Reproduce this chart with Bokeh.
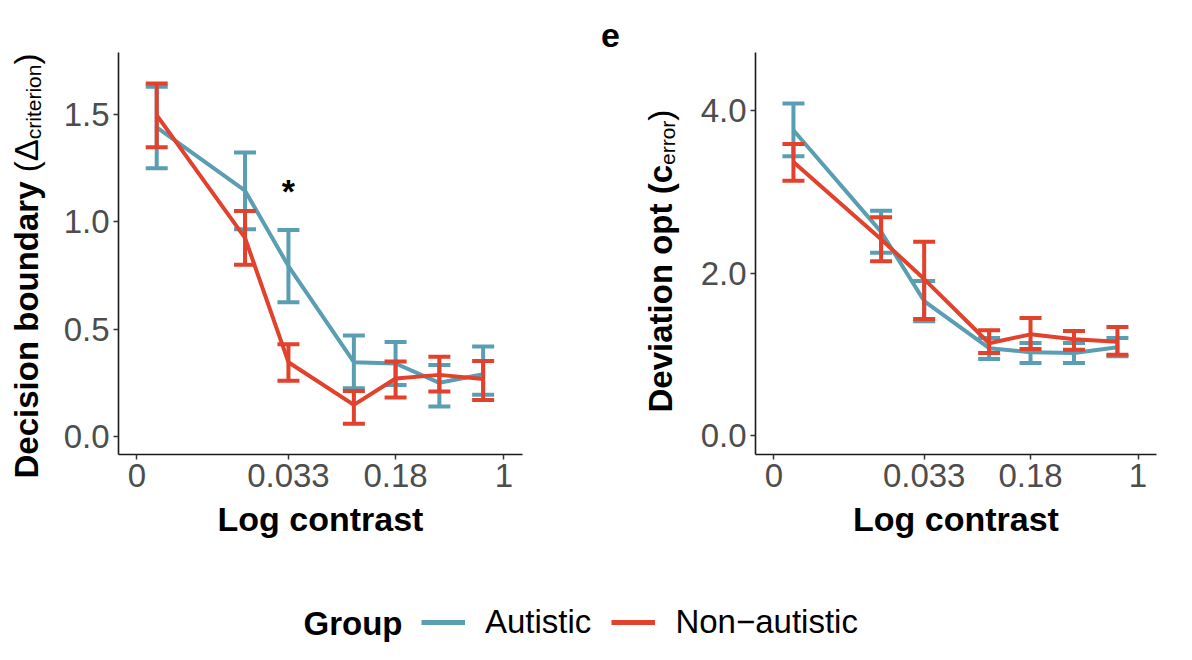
import numpy as np
from bokeh.plotting import figure
from bokeh.models import (Range1d, FixedTicker, NumeralTickFormatter,
                          CustomJSTickFormatter, Legend, LegendItem, ColumnDataSource)
from bokeh.layouts import column, row
from bokeh.embed import file_html
from bokeh.resources import INLINE
from bokeh.core.properties import value

# ---------------- data ----------------
contrast = [0.0041, 0.0166, 0.033, 0.093, 0.18, 0.36, 0.72]
x_tick_contrast = [0.003, 0.033, 0.18, 1.0]
x_tick_labels = ["0", "0.033", "0.18", "1"]

# left panel: decision boundary
db_aut_mean = [1.44, 1.145, 0.794, 0.346, 0.34, 0.25, 0.29]
db_aut_lo = [1.25, 0.966, 0.625, 0.225, 0.24, 0.14, 0.194]
db_aut_hi = [1.63, 1.323, 0.962, 0.47, 0.44, 0.333, 0.419]
db_non_mean = [1.497, 0.925, 0.346, 0.147, 0.27, 0.287, 0.268]
db_non_lo = [1.348, 0.80, 0.26, 0.059, 0.181, 0.209, 0.17]
db_non_hi = [1.644, 1.05, 0.43, 0.212, 0.349, 0.372, 0.352]
db_yticks = [0.0, 0.5, 1.0, 1.5]
sig_contrast = [0.033]
sig_y = [1.145]

# right panel: deviation from optimum
dev_aut_mean = [3.76, 2.51, 1.66, 1.08, 1.03, 1.02, 1.09]
dev_aut_lo = [3.44, 2.255, 1.41, 0.946, 0.897, 0.897, 0.98]
dev_aut_hi = [4.09, 2.77, 1.905, 1.206, 1.144, 1.144, 1.206]
dev_non_mean = [3.37, 2.42, 1.93, 1.14, 1.25, 1.19, 1.16]
dev_non_lo = [3.14, 2.15, 1.44, 1.02, 1.07, 1.06, 1.0]
dev_non_hi = [3.59, 2.69, 2.39, 1.30, 1.45, 1.29, 1.34]
dev_yticks = [0.0, 2.0, 4.0]

groups = ["Autistic", "Non\u2212autistic"]
colors = ["#5A9EB3", "#E2412C"]

FONT = "Liberation Sans"
TICK_SIZE = "33px"
TITLE_SIZE = "34px"
H = 560  # height of the panel row

logx = np.log10(contrast)
x_ticks = [float(v) for v in np.log10(x_tick_contrast)]
X0, X1 = -2.65, 0.128

# approximate Arial/Liberation advance widths (em) for the y-title pieces
W_REG = {"(": .333, ")": .333, "c": .5, "r": .333, "i": .222, "t": .278, "e": .556,
         "o": .556, "n": .556, " ": .278, "\u0394": .668}
W_BOLD = {"D": .722, "e": .556, "c": .556, "i": .278, "s": .556, "o": .611, "n": .611,
          " ": .278, "b": .611, "u": .611, "d": .611, "a": .556, "r": .389, "y": .556,
          "v": .556, "t": .333, "p": .611, "(": .333, ")": .333}


def text_len(s, size, bold):
    tab = W_BOLD if bold else W_REG
    return sum(tab.get(ch, .556) for ch in s) * size


def blank_fig(width, height):
    f = figure(width=width, height=height, x_range=Range1d(0, width),
               y_range=Range1d(0, height), min_border=0, output_backend="svg",
               toolbar_location=None, x_axis_type=None, y_axis_type=None, title=None,
               frame_align=False)
    f.grid.visible = False
    f.outline_line_color = None
    return f


def make_panel(width, ml, mr, yr, yticks):
    p = figure(width=width, height=H, x_range=Range1d(X0, X1), y_range=Range1d(*yr),
               min_border_left=ml, min_border_right=mr, min_border_top=52,
               min_border_bottom=106, output_backend="svg", toolbar_location=None,
               frame_align=False)
    p.grid.visible = False
    p.outline_line_color = None
    p.xaxis.ticker = FixedTicker(ticks=x_ticks)
    p.xaxis.formatter = CustomJSTickFormatter(args=dict(labels=x_tick_labels),
                                              code="return labels[index]")
    p.yaxis.ticker = FixedTicker(ticks=yticks)
    p.yaxis.formatter = NumeralTickFormatter(format="0.0")
    for ax in p.axis:
        ax.axis_line_color = "#1a1a1a"
        ax.axis_line_width = 1.6
        ax.major_tick_line_color = "#333333"
        ax.major_tick_line_width = 1.5
        ax.major_tick_out = 5
        ax.major_tick_in = 0
        ax.minor_tick_line_color = None
        ax.major_label_text_font = FONT
        ax.major_label_text_font_size = TICK_SIZE
        ax.major_label_text_color = "#4D4D4D"
        ax.major_label_standoff = 4
    p.xaxis.axis_label = "Log contrast"
    p.xaxis.axis_label_text_font = FONT
    p.xaxis.axis_label_text_font_size = TITLE_SIZE
    p.xaxis.axis_label_text_font_style = "bold"
    p.xaxis.axis_label_text_color = "black"
    p.xaxis.axis_label_standoff = 10
    return p


def add_series(p, mean, lo, hi, color):
    src = ColumnDataSource(dict(x=logx, m=mean, lo=lo, hi=hi))
    p.segment(x0="x", y0="lo", x1="x", y1="hi", source=src, line_color=color, line_width=4)
    p.scatter(x="x", y="hi", source=src, marker="dash", size=22, line_color=color, line_width=4)
    p.scatter(x="x", y="lo", source=src, marker="dash", size=22, line_color=color, line_width=4)
    return p.line(x="x", y="m", source=src, line_color=color, line_width=4)


def add_vtitle(f, pieces, cx, py_start):
    """Rotated title made of pieces (text, size, bold, shift_px); each piece centred."""
    py = py_start
    for txt, size, bold, shift in pieces:
        L = text_len(txt, size, bold)
        f.text(x=[cx + shift], y=[H - (py - L / 2)], text=[txt], angle=np.pi / 2,
               text_align="center", text_baseline="middle", text_font=value(FONT),
               text_font_size=f"{size}px", text_font_style="bold" if bold else "normal",
               text_color="black")
        py -= L


# ---------------- left title strip + panel ----------------
s1 = blank_fig(50, H)
add_vtitle(s1, [("Decision boundary ", 33, True, 0), ("(", 33, False, 0),
                ("\u0394", 33, False, 0), ("criterion", 21, False, 7), (")", 33, False, 0)],
           26, 478)

yr1 = (-0.084, 1.789)
p1 = make_panel(540, 68, 68, yr1, db_yticks)
add_series(p1, db_aut_mean, db_aut_lo, db_aut_hi, colors[0])
add_series(p1, db_non_mean, db_non_lo, db_non_hi, colors[1])
p1.text(x=list(np.log10(sig_contrast)), y=sig_y, text=["*"], text_align="center",
        text_baseline="middle", text_font=value(FONT), text_font_size="34px",
        text_font_style="bold", text_color="black")

# ---------------- right title strip + panel ----------------
s2 = blank_fig(100, H)
add_vtitle(s2, [("Deviation opt (c", 33, True, 0), ("error", 21, False, 7),
                (")", 33, False, 0)],
           660 - 590, 412)
s2.text(x=[610 - 590], y=[H - 35], text=["e"], text_align="center",
        text_baseline="middle", text_font=value(FONT), text_font_size="34px",
        text_font_style="bold", text_color="black")

yr2 = (-0.228, 4.717)
p2 = make_panel(494, 65, 28, yr2, dev_yticks)
add_series(p2, dev_aut_mean, dev_aut_lo, dev_aut_hi, colors[0])
add_series(p2, dev_non_mean, dev_non_lo, dev_non_hi, colors[1])

# ---------------- legend strip ----------------
pl = blank_fig(1184, 88)
r_a = pl.line(x=[np.nan], y=[np.nan], line_color=colors[0], line_width=5)
r_n = pl.line(x=[np.nan], y=[np.nan], line_color=colors[1], line_width=5)
leg = Legend(items=[LegendItem(label=groups[0], renderers=[r_a]),
                    LegendItem(label=groups[1], renderers=[r_n])],
             orientation="horizontal", location=(421, 7), glyph_width=44,
             glyph_height=30, label_standoff=20, spacing=20, padding=0, margin=0,
             border_line_color=None, background_fill_alpha=0,
             label_text_font=FONT, label_text_font_size="33px", label_text_color="black")
pl.add_layout(leg)
pl.text(x=[303], y=[25], text=["Group"], text_align="left", text_baseline="middle",
        text_font=value(FONT), text_font_size="33px", text_font_style="bold",
        text_color="black")

layout = column(row(s1, p1, s2, p2), pl)
open("out.html", "w").write(file_html(layout, INLINE))
